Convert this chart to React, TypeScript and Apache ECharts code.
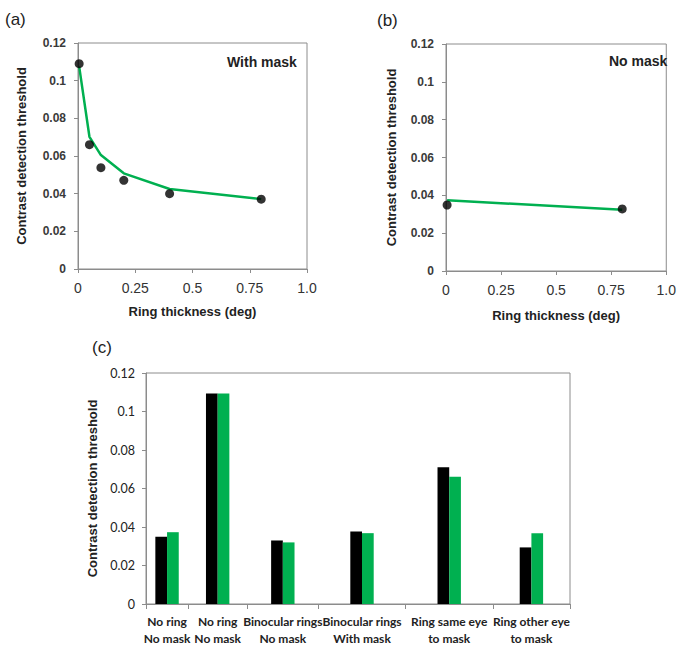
import React, { useEffect, useRef } from "react";
import * as echarts from "echarts";

// ---------- data ----------
// Panel (a): with mask
const ringThicknessA = [0.005, 0.05, 0.1, 0.2, 0.4, 0.8];
const thresholdA = [0.109, 0.066, 0.0538, 0.0471, 0.04, 0.0371];
const fitA = [0.1076, 0.0702, 0.0605, 0.0508, 0.0425, 0.0371];

// Panel (b): no mask
const ringThicknessB = [0.005, 0.8];
const thresholdB = [0.0349, 0.0328];
const fitB = [0.0374, 0.0324];

// Panel (c): bar chart
const categoriesC = [
  "No ring\nNo mask",
  "No ring\nNo mask",
  "Binocular rings\nNo mask",
  "Binocular rings\nWith mask",
  "Ring same eye\nto mask",
  "Ring other eye\nto mask",
];
// relative widths of the category bands on the x axis
const bandWidthsC = [42, 59, 71, 87, 87, 77];
const blackValuesC = [0.0349, 0.1093, 0.033, 0.0376, 0.071, 0.0294];
const greenValuesC = [0.0373, 0.1093, 0.032, 0.0368, 0.0661, 0.0368];

const xTicksAB = [0, 0.25, 0.5, 0.75, 1.0];

// ---------- helpers ----------
const bandEdges: number[] = [0];
bandWidthsC.forEach((w, i) => bandEdges.push(bandEdges[i] + w));
const bandCenters = bandWidthsC.map((w, i) => bandEdges[i] + w / 2);

const GREEN = "#00B050";
const AXIS = "#8c8c8c";
const FONT = "Liberation Sans";

const yFmt = (v: number) => (v === 0 ? "0" : String(parseFloat(v.toFixed(2))));
const xFmt = (v: number) => (v === 1 ? "1.0" : String(parseFloat(v.toFixed(2))));

function scatterAxes(gridIndex: number, yNameGap: number, xNameGap: number) {
  const xAxis = {
    gridIndex,
    type: "value",
    min: xTicksAB[0],
    max: xTicksAB[xTicksAB.length - 1],
    interval: 0.25,
    axisLine: { show: true, lineStyle: { color: AXIS, width: 1 } },
    axisTick: { show: true, length: 4, lineStyle: { color: AXIS } },
    axisLabel: {
      formatter: xFmt,
      fontSize: 14,
      fontFamily: FONT,
      color: "#333",
      margin: 12,
    },
    splitLine: { show: false },
    name: "Ring thickness (deg)",
    nameLocation: "middle",
    nameGap: xNameGap,
    nameTextStyle: { fontWeight: "bold", fontSize: 13, fontFamily: FONT, color: "#222" },
  };
  const yAxis = {
    gridIndex,
    type: "value",
    min: 0,
    max: 0.12,
    interval: 0.02,
    axisLine: { show: true, lineStyle: { color: AXIS, width: 1 } },
    axisTick: { show: true, length: 4, lineStyle: { color: AXIS } },
    axisLabel: {
      formatter: yFmt,
      fontSize: 12,
      fontWeight: "bold",
      fontFamily: FONT,
      color: "#3a3a3a",
      margin: 12,
    },
    splitLine: { show: false },
    name: "Contrast detection threshold",
    nameLocation: "middle",
    nameGap: yNameGap,
    nameRotate: 90,
    nameTextStyle: { fontWeight: "bold", fontSize: 13, fontFamily: FONT, color: "#222" },
  };
  return { xAxis, yAxis };
}

export default function App() {
  const ref = useRef<HTMLDivElement>(null);

  useEffect(() => {
    if (!ref.current) return;
    const chart = echarts.init(ref.current, null, { renderer: "svg" });

    const a = scatterAxes(0, 50, 36);
    const b = scatterAxes(1, 48, 38);

    const option: any = {
      animation: false,
      backgroundColor: "#ffffff",
      grid: [
        { left: 78, top: 43, width: 229, height: 226, show: true, borderColor: AXIS, borderWidth: 1 },
        { left: 446, top: 44, width: 227, height: 227, show: true, borderColor: AXIS, borderWidth: 1 },
        { left: 146, top: 373, width: 424, height: 231, show: true, borderColor: AXIS, borderWidth: 1 },
      ],
      xAxis: [
        a.xAxis,
        b.xAxis,
        {
          gridIndex: 2,
          type: "value",
          min: bandEdges[0],
          max: bandEdges[bandEdges.length - 1],
          axisLine: { show: true, lineStyle: { color: AXIS, width: 1 } },
          axisTick: { show: true, length: 5, lineStyle: { color: AXIS }, customValues: bandEdges },
          axisLabel: {
            customValues: bandCenters,
            formatter: (v: number) => {
              const i = bandCenters.findIndex((c) => Math.abs(c - v) < 1e-6);
              return i >= 0 ? categoriesC[i] : "";
            },
            fontSize: 12,
            fontWeight: "bold",
            fontFamily: "Lato",
            color: "#222",
            lineHeight: 17,
            margin: 9,
            hideOverlap: false,
          },
          splitLine: { show: false },
        },
      ],
      yAxis: [
        a.yAxis,
        b.yAxis,
        {
          gridIndex: 2,
          type: "value",
          min: 0,
          max: 0.12,
          interval: 0.02,
          axisLine: { show: true, lineStyle: { color: AXIS, width: 1 } },
          axisTick: { show: true, length: 4, lineStyle: { color: AXIS } },
          axisLabel: {
            formatter: yFmt,
            fontSize: 12.5,
            fontFamily: "Lato",
            color: "#222",
            margin: 11,
          },
          splitLine: { show: false },
          name: "Contrast detection threshold",
          nameLocation: "middle",
          nameGap: 40,
          nameRotate: 90,
          nameTextStyle: { fontWeight: "bold", fontSize: 13, fontFamily: FONT, color: "#222" },
        },
      ],
      series: [
        {
          type: "line",
          xAxisIndex: 0,
          yAxisIndex: 0,
          data: ringThicknessA.map((x, i) => [x, fitA[i]]),
          symbol: "none",
          lineStyle: { color: GREEN, width: 2.5 },
          z: 2,
        },
        {
          type: "scatter",
          xAxisIndex: 0,
          yAxisIndex: 0,
          data: ringThicknessA.map((x, i) => [x, thresholdA[i]]),
          symbolSize: 9,
          itemStyle: { color: "#000" },
          z: 3,
        },
        {
          type: "line",
          xAxisIndex: 1,
          yAxisIndex: 1,
          data: ringThicknessB.map((x, i) => [x, fitB[i]]),
          symbol: "none",
          lineStyle: { color: GREEN, width: 2.5 },
          z: 2,
        },
        {
          type: "scatter",
          xAxisIndex: 1,
          yAxisIndex: 1,
          data: ringThicknessB.map((x, i) => [x, thresholdB[i]]),
          symbolSize: 9,
          itemStyle: { color: "#000" },
          z: 3,
        },
        {
          type: "bar",
          xAxisIndex: 2,
          yAxisIndex: 2,
          data: bandCenters.map((c, i) => [c, blackValuesC[i]]),
          barWidth: 11.7,
          barGap: "0%",
          itemStyle: { color: "#000" },
        },
        {
          type: "bar",
          xAxisIndex: 2,
          yAxisIndex: 2,
          data: bandCenters.map((c, i) => [c, greenValuesC[i]]),
          barWidth: 11.7,
          barGap: "0%",
          itemStyle: { color: GREEN },
        },
      ],
      graphic: [
        { type: "text", left: 5, top: 11, style: { text: "(a)", fontSize: 17, fontFamily: FONT, fill: "#222" } },
        { type: "text", left: 377, top: 12, style: { text: "(b)", fontSize: 17, fontFamily: FONT, fill: "#222" } },
        { type: "text", left: 92, top: 339, style: { text: "(c)", fontSize: 17, fontFamily: FONT, fill: "#222" } },
        {
          type: "text",
          left: 227,
          top: 55,
          style: { text: "With mask", fontSize: 14, fontWeight: "bold", fontFamily: FONT, fill: "#222" },
        },
        {
          type: "text",
          left: 609,
          top: 54,
          style: { text: "No mask", fontSize: 14, fontWeight: "bold", fontFamily: FONT, fill: "#222" },
        },
      ],
    };

    chart.setOption(option);
    return () => chart.dispose();
  }, []);

  return (
    <div
      ref={ref}
      style={{ position: "absolute", left: 0, top: 0, width: 679, height: 647, background: "#fff" }}
    />
  );
}
